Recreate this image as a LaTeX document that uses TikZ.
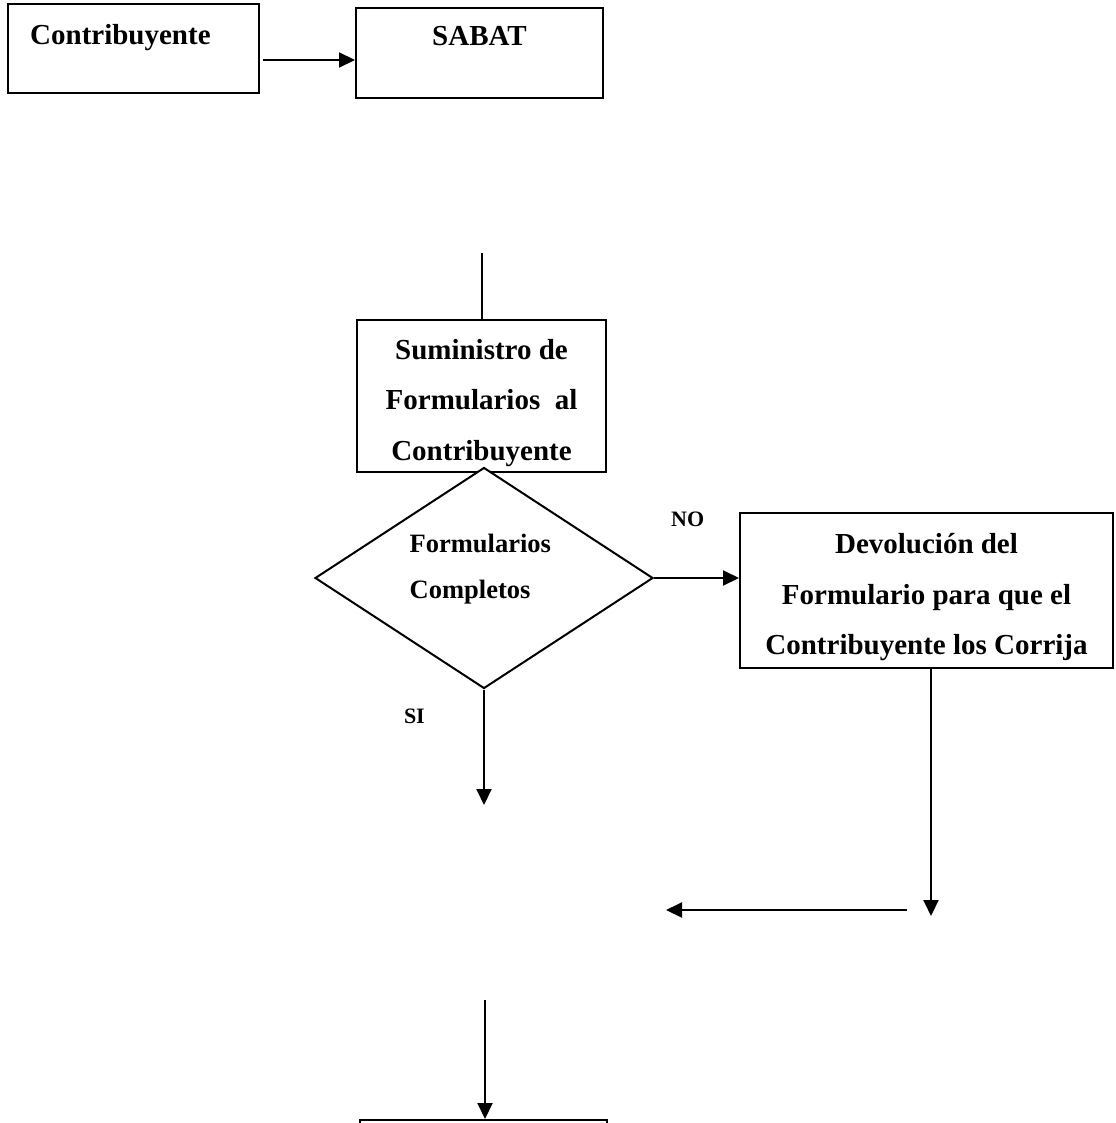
\documentclass[tikz,border=0pt]{standalone}
\usepackage{fontspec}
\setmainfont{Liberation Serif}
\usetikzlibrary{shapes}
\usetikzlibrary{arrows.meta}
\usetikzlibrary{positioning}
\tikzset{
	caja/.style = {rectangle, draw=black, line width=2pt, inner sep=0pt,
		align=center, font=\fontsize{29}{50.5}\selectfont\bfseries},% caja de proceso
	caja3/.style = {caja, text height=134pt, text depth=6pt},% caja con tres lineas
	rombo/.style = {diamond, draw=black, fill=white, line width=2pt, inner sep=0pt,
		minimum width=338pt, minimum height=221pt},% decision
	texto/.style = {inner sep=0pt, align=left,
		font=\fontsize{29}{50.5}\selectfont\bfseries},% texto de caja
	texto_r/.style = {texto, font=\fontsize{26.5}{46}\selectfont\bfseries},% texto del rombo
	etiq/.style = {inner sep=0pt, font=\fontsize{22}{24}\selectfont\bfseries},% SI / NO
	linea/.style = {line width=2pt},
	flecha/.style = {linea, -{Triangle[length=16pt,width=15pt]}}
}

\begin{document}
\begin{tikzpicture}[x=1pt,y=-1pt]
	\useasboundingbox (0,0) rectangle (1115,1123);
	\clip (0,0) rectangle (1115,1123);
	% fila superior
	\node[caja, minimum width=251pt, minimum height=89pt] (contrib) at (133.5,48.5) {};
	\node[texto, below right=21.5pt and 23pt of contrib.north west] (t_contrib) {Contribuyente};
	\node[caja, minimum width=247pt, minimum height=90pt] (sabat) at (479.5,53) {};
	\node[texto, below=19.5pt of sabat.north] (t_sabat) {SABAT};
	\draw[flecha] ([xshift=3pt,yshift=-11.5pt]contrib.east) -- ([yshift=-7pt]sabat.west);
	% suministro y decision
	\coordinate (c1) at (482,253);
	\node[caja3, minimum width=249pt, minimum height=152pt] (sumin) at (481.5,396)
		{Suministro de\\Formularios~ al\\Contribuyente};
	\draw[linea] (c1) -- (c1 |- sumin.north);
	\node[rombo] (decision) at (484,578) {};
	\node[texto_r, below right=11.5pt and 10.5pt of decision.north west] (t_decision)
		{Formularios\\Completos};
	\node[etiq, above right=51pt and 17pt of decision.east] (no) {NO};
	\node[etiq, below left=19pt and 59pt of decision.south] (si) {SI};
	% rama NO
	\node[caja3, minimum width=373pt, minimum height=155pt] (devol) at (926.5,590.5)
		{Devolución del\\Formulario para que el\\Contribuyente los Corrija};
	\draw[flecha] (decision.east) -- (decision.east -| devol.west);
	\coordinate (c3) at (931,916);
	\draw[flecha] (c3 |- devol.south) -- (c3);
	\coordinate (c4) at (907,910);
	\coordinate (c5) at (666,910);
	\draw[flecha] (c4) -- (c5);
	% rama SI
	\coordinate (c2) at (484,805);
	\draw[flecha] (decision.south) -- (c2);
	\coordinate (c6) at (485,1000);
	\node[caja, minimum width=247pt, minimum height=150pt] (fin) at (483.5,1195) {};
	\draw[flecha] (c6) -- (c6 |- fin.north);
\end{tikzpicture}
\end{document}
